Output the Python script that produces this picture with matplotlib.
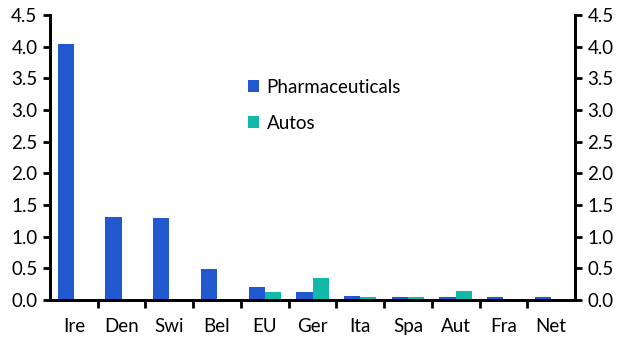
import matplotlib.pyplot as plt
import numpy as np
from matplotlib.ticker import MultipleLocator, FixedLocator

plt.rcParams['font.family'] = ['Lato', 'DejaVu Sans']

countries = ["Ire", "Den", "Swi", "Bel", "EU", "Ger", "Ita", "Spa", "Aut", "Fra", "Net"]
pharma = [4.04, 1.31, 1.30, 0.49, 0.21, 0.12, 0.07, 0.04, 0.05, 0.05, 0.04]
autos = [0.0, 0.0, 0.0, 0.02, 0.13, 0.35, 0.05, 0.04, 0.15, 0.0, 0.0]

blue = "#2158CE"
teal = "#13B9A8"

fig = plt.figure(figsize=(6.24, 3.46), dpi=100)
ax = fig.add_axes([50 / 624, 46 / 346, 525 / 624, 285 / 346])

x = np.arange(len(countries))
w = 0.34
ax.bar(x - w / 2, pharma, w, color=blue, label="Pharmaceuticals")
ax.bar(x + w / 2, autos, w, color=teal, label="Autos")

ax.set_xlim(-0.5, len(countries) - 0.5)
ax.set_ylim(0, 4.5)
ax.yaxis.set_major_locator(MultipleLocator(0.5))
ax.yaxis.set_major_formatter(plt.FuncFormatter(lambda v, p: f"{v:.1f}"))

# ticks between categories, labels at centres
ax.xaxis.set_major_locator(FixedLocator(np.arange(0.5, len(countries) - 0.5, 1)))
ax.xaxis.set_major_formatter(plt.NullFormatter())
ax.xaxis.set_minor_locator(FixedLocator(x))
ax.set_xticklabels(countries, minor=True)
ax.tick_params(axis='x', which='minor', length=0, labelsize=13.5, pad=13)
ax.tick_params(axis='x', which='major', length=6, width=2, direction='out')

ax2 = ax.twinx()
ax2.set_ylim(0, 4.5)
ax2.yaxis.set_major_locator(MultipleLocator(0.5))
ax2.yaxis.set_major_formatter(plt.FuncFormatter(lambda v, p: f"{v:.1f}"))

for a in (ax, ax2):
    a.spines['top'].set_visible(False)
    a.tick_params(axis='y', labelsize=13.5, length=5, width=2, direction='out', pad=4)
    for s in ('left', 'right', 'bottom'):
        a.spines[s].set_linewidth(2)

ax.legend(loc='upper left', bbox_to_anchor=(0.345, 0.835), frameon=False, fontsize=13.5,
          handlelength=0.6, handleheight=0.6, handletextpad=0.4, labelspacing=1.0)

fig.savefig("out.png", dpi=100)
